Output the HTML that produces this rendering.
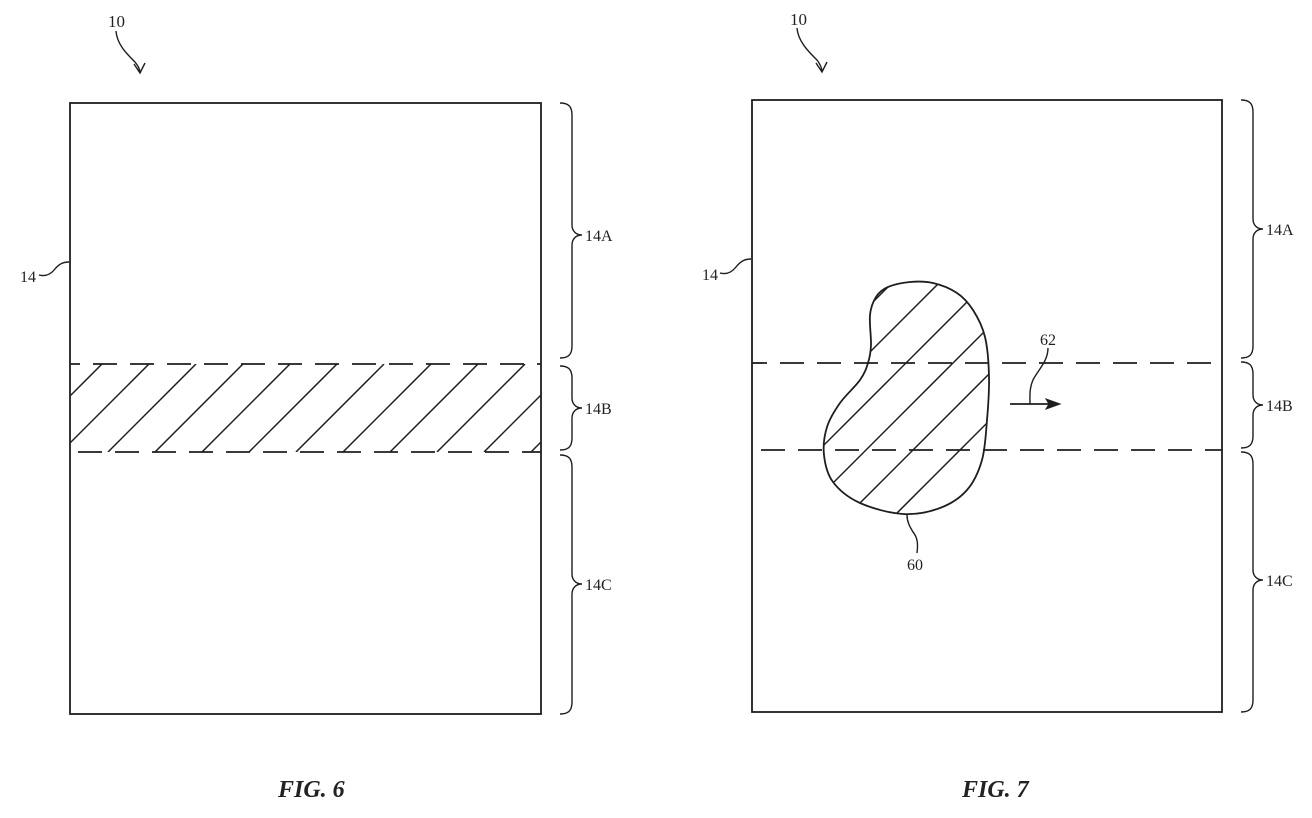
<!DOCTYPE html>
<html>
<head>
<meta charset="utf-8">
<style>
  html,body{margin:0;padding:0;background:#fff;}
  svg{display:block;}
  .ln{fill:none;stroke:#1e1e1e;stroke-width:1.8;stroke-linecap:butt;}
  .th{fill:none;stroke:#1e1e1e;stroke-width:1.5;}
  .thin{stroke-width:1.4;}
  .lbl{font-family:"Liberation Serif",serif;font-size:16px;fill:#222;}
  .fig{font-family:"Liberation Serif",serif;font-size:24px;font-weight:bold;font-style:italic;fill:#222;}
</style>
</head>
<body>
<svg width="1312" height="818" viewBox="0 0 1312 818" xmlns="http://www.w3.org/2000/svg">
  <defs>
    <clipPath id="band6"><rect x="70" y="364" width="471" height="88"/></clipPath>
    <clipPath id="blob">
      <path d="M910,282 C917.5,281.3 925.2,281.2 933,283 C940.8,284.8 950.3,288.5 957,293 C963.7,297.5 968.3,302.7 973,310 C977.7,317.3 982.3,325.8 985,337 C987.7,348.2 988.7,363.2 989,377 C989.3,390.8 988.2,406.2 987,420 C985.8,433.8 985.3,448.3 982,460 C978.7,471.7 974,482 967,490 C960,498 950.7,504 940,508 C929.3,512 916.3,514.8 903,514 C889.7,513.2 871.7,508.3 860,503 C848.3,497.7 839,490 833,482 C827,474 825,464.2 824,455 C823,445.8 824.3,435.7 827,427 C829.7,418.3 834.5,410.8 840,403 C845.5,395.2 855.3,386.7 860,380 C864.7,373.3 866.2,368.8 868,363 C869.8,357.2 870.7,353 871,345 C871.3,337 869.2,323 870,315 C870.8,307 873,301.7 876,297 C879,292.3 882.3,289.5 888,287 C893.7,284.5 902.5,282.7 910,282 Z"/>
    </clipPath>
  </defs>

  <!-- ================= FIG 6 ================= -->
  <text class="lbl" x="108" y="27" style="font-size:17px">10</text>
  <path class="ln thin" d="M116,31 C117,45 128,55 135,62 C138,66 140,69 140,73"/>
  <polyline class="ln thin" points="134,64 140,73 145,63"/>

  <rect class="ln" x="70" y="103" width="471" height="611"/>

  <text class="lbl" x="20" y="282">14</text>
  <path class="ln thin" d="M39,275 C46,277 51,274 55,269 C59,264 63,262 69,262"/>

  <!-- hatch band -->
  <g clip-path="url(#band6)">
    <line class="th" x1="14" y1="452" x2="102" y2="364"/>
    <line class="th" x1="61" y1="452" x2="149" y2="364"/>
    <line class="th" x1="108" y1="452" x2="196" y2="364"/>
    <line class="th" x1="155" y1="452" x2="243" y2="364"/>
    <line class="th" x1="202" y1="452" x2="290" y2="364"/>
    <line class="th" x1="249" y1="452" x2="337" y2="364"/>
    <line class="th" x1="296" y1="452" x2="384" y2="364"/>
    <line class="th" x1="343" y1="452" x2="431" y2="364"/>
    <line class="th" x1="390" y1="452" x2="478" y2="364"/>
    <line class="th" x1="437" y1="452" x2="525" y2="364"/>
    <line class="th" x1="484" y1="452" x2="572" y2="364"/>
    <line class="th" x1="531" y1="452" x2="619" y2="364"/>
  </g>
  <line class="ln" x1="70" y1="364" x2="541" y2="364" stroke-dasharray="24 13" stroke-dashoffset="14"/>
  <line class="ln" x1="70" y1="452" x2="541" y2="452" stroke-dasharray="24 13" stroke-dashoffset="29"/>

  <!-- braces fig 6 -->
  <path class="ln thin" d="M560,103 C568,103 572,106 572,115 L572,225 C572,231 576,235 582,235 C576,235 572,239 572,245 L572,346 C572,355 568,358 560,358"/>
  <path class="ln thin" d="M560,366 C568,366 572,369 572,378 L572,398 C572,404 576,408 582,408 C576,408 572,412 572,418 L572,438 C572,447 568,450 560,450"/>
  <path class="ln thin" d="M560,455 C568,455 572,458 572,467 L572,574 C572,580 576,584 582,584 C576,584 572,588 572,594 L572,702 C572,711 568,714 560,714"/>
  <text class="lbl" x="585" y="241">14A</text>
  <text class="lbl" x="585" y="414">14B</text>
  <text class="lbl" x="585" y="590">14C</text>

  <text class="fig" x="278" y="797">FIG. 6</text>

  <!-- ================= FIG 7 ================= -->
  <text class="lbl" x="790" y="25" style="font-size:17px">10</text>
  <path class="ln thin" d="M797,28 C798,42 810,53 817,60 C820,64 822,68 822,72"/>
  <polyline class="ln thin" points="816,63 822,72 827,62"/>

  <rect class="ln" x="752" y="100" width="470" height="612"/>

  <text class="lbl" x="702" y="280">14</text>
  <path class="ln thin" d="M720,273 C727,275 732,272 736,267 C740,262 744,259 751,259"/>

  <line class="ln" x1="752" y1="363" x2="1222" y2="363" stroke-dasharray="24 13" stroke-dashoffset="9"/>
  <line class="ln" x1="752" y1="450" x2="1222" y2="450" stroke-dasharray="24 13" stroke-dashoffset="28"/>

  <!-- blob hatch -->
  <g clip-path="url(#blob)">
    <line class="th" x1="780" y1="395" x2="1000" y2="175"/>
    <line class="th" x1="780" y1="442" x2="1000" y2="222"/>
    <line class="th" x1="780" y1="489" x2="1000" y2="269"/>
    <line class="th" x1="780" y1="536" x2="1000" y2="316"/>
    <line class="th" x1="780" y1="583" x2="1000" y2="363"/>
    <line class="th" x1="780" y1="630" x2="1000" y2="410"/>
  </g>
  <path class="ln" d="M910,282 C917.5,281.3 925.2,281.2 933,283 C940.8,284.8 950.3,288.5 957,293 C963.7,297.5 968.3,302.7 973,310 C977.7,317.3 982.3,325.8 985,337 C987.7,348.2 988.7,363.2 989,377 C989.3,390.8 988.2,406.2 987,420 C985.8,433.8 985.3,448.3 982,460 C978.7,471.7 974,482 967,490 C960,498 950.7,504 940,508 C929.3,512 916.3,514.8 903,514 C889.7,513.2 871.7,508.3 860,503 C848.3,497.7 839,490 833,482 C827,474 825,464.2 824,455 C823,445.8 824.3,435.7 827,427 C829.7,418.3 834.5,410.8 840,403 C845.5,395.2 855.3,386.7 860,380 C864.7,373.3 866.2,368.8 868,363 C869.8,357.2 870.7,353 871,345 C871.3,337 869.2,323 870,315 C870.8,307 873,301.7 876,297 C879,292.3 882.3,289.5 888,287 C893.7,284.5 902.5,282.7 910,282 Z"/>

  <!-- 60 leader -->
  <path class="ln thin" d="M907,515 C907,522 910,527 913,532 C918,538 918,545 917,553"/>
  <text class="lbl" x="907" y="570">60</text>

  <!-- 62 arrow -->
  <text class="lbl" x="1040" y="345">62</text>
  <path class="ln thin" d="M1048,348 C1048,360 1040,368 1034,378 C1029,387 1030,396 1030,404"/>
  <line class="ln" x1="1010" y1="404" x2="1052" y2="404"/>
  <polygon points="1046,399 1060,404 1046,409 1049,404" fill="#1e1e1e" stroke="#1e1e1e" stroke-width="1"/>

  <!-- braces fig 7 -->
  <path class="ln thin" d="M1241,100 C1249,100 1253,103 1253,112 L1253,219 C1253,225 1257,229 1263,229 C1257,229 1253,233 1253,239 L1253,346 C1253,355 1249,358 1241,358"/>
  <path class="ln thin" d="M1241,362 C1249,362 1253,365 1253,374 L1253,395 C1253,401 1257,405 1263,405 C1257,405 1253,409 1253,415 L1253,436 C1253,445 1249,448 1241,448"/>
  <path class="ln thin" d="M1241,452 C1249,452 1253,455 1253,464 L1253,570 C1253,576 1257,580 1263,580 C1257,580 1253,584 1253,590 L1253,700 C1253,709 1249,712 1241,712"/>
  <text class="lbl" x="1266" y="235">14A</text>
  <text class="lbl" x="1266" y="411">14B</text>
  <text class="lbl" x="1266" y="586">14C</text>

  <text class="fig" x="962" y="797">FIG. 7</text>
</svg>
</body>
</html>
